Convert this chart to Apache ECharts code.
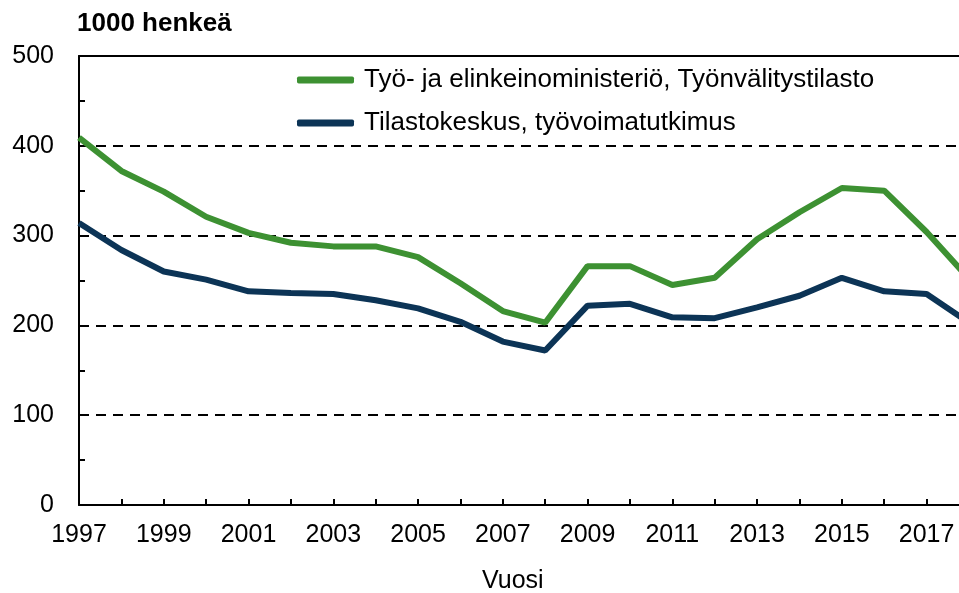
<!DOCTYPE html>
<html>
<head>
<meta charset="utf-8">
<script src="https://cdn.jsdelivr.net/npm/echarts@6/dist/echarts.min.js"></script>
<style>html,body{margin:0;padding:0;background:#fff;overflow:hidden;}#c{width:959px;height:593px;}</style>
</head>
<body>
<div id="c"></div>
<script>
const years = ['1997','1998','1999','2000','2001','2002','2003','2004','2005','2006','2007','2008','2009','2010','2011','2012','2013','2014','2015','2016','2017','2018'];
const temValues = [409,372,349,321,303,292,288,288,276,247,216,203,266,266,245,253,296,326,353,350,304,252];
const tkValues = [314,284,260,251,238,236,235,228,219,204,182,172,222,224,209,208,220,233,253,238,235,203];
const yTicks = [0,100,200,300,400,500];
const seriesNames = ['Työ- ja elinkeinoministeriö, Työnvälitystilasto','Tilastokeskus, työvoimatutkimus'];
const unitLabel = '1000 henkeä';
const xName = 'Vuosi';

const font = 'Liberation Sans, Arial, sans-serif';
const chart = echarts.init(document.getElementById('c'), null, {renderer:'canvas'});
chart.setOption({
  animation:false,
  backgroundColor:'#fff',
  title:[
    {text:unitLabel,left:77,top:11,padding:0,textStyle:{fontFamily:font,fontWeight:'bold',fontSize:26,color:'#000'}},
    {text:xName,left:482,top:569,padding:0,textStyle:{fontFamily:font,fontWeight:'normal',fontSize:25,color:'#000'}}
  ],
  legend:{
    orient:'vertical',left:297,top:67,itemGap:17,itemWidth:57,itemHeight:7,padding:0,
    icon:'roundRect',
    textStyle:{fontFamily:font,fontSize:26,color:'#000',padding:[0,0,0,5]},
    data:seriesNames
  },
  grid:{left:79,top:56,width:890,bottom:88,containLabel:false,outerBoundsMode:'none'},
  xAxis:[{
    type:'category',data:years,boundaryGap:false,
    axisLine:{lineStyle:{color:'#000',width:2}},
    axisTick:{inside:true,length:6,interval:0,lineStyle:{color:'#000',width:2}},
    axisLabel:{interval:1,fontFamily:font,fontSize:25,color:'#000',margin:18},
    splitLine:{show:false}
  },{
    type:'category',data:years,position:'top',boundaryGap:false,
    axisLine:{lineStyle:{color:'#000',width:2}},
    axisTick:{show:false},axisLabel:{show:false},splitLine:{show:false}
  }],
  yAxis:{
    type:'value',min:yTicks[0],max:yTicks[yTicks.length-1],interval:100,
    axisLine:{show:true,lineStyle:{color:'#000',width:2}},
    axisTick:{show:true,inside:true,length:6,lineStyle:{color:'#000',width:2}},
    minorTick:{show:true,splitNumber:2,length:6,lineStyle:{color:'#000',width:2}},
    axisLabel:{fontFamily:font,fontSize:25,color:'#000',margin:25},
    splitLine:{show:true,lineStyle:{color:'#000',type:[10,7],width:2}}
  },
  series:[
    {name:seriesNames[0],type:'line',data:temValues,symbol:'none',color:'#3d9132',lineStyle:{width:6,color:'#3d9132'},z:3},
    {name:seriesNames[1],type:'line',data:tkValues,symbol:'none',color:'#0c3456',lineStyle:{width:6,color:'#0c3456'},z:4}
  ]
});
</script>
</body>
</html>
